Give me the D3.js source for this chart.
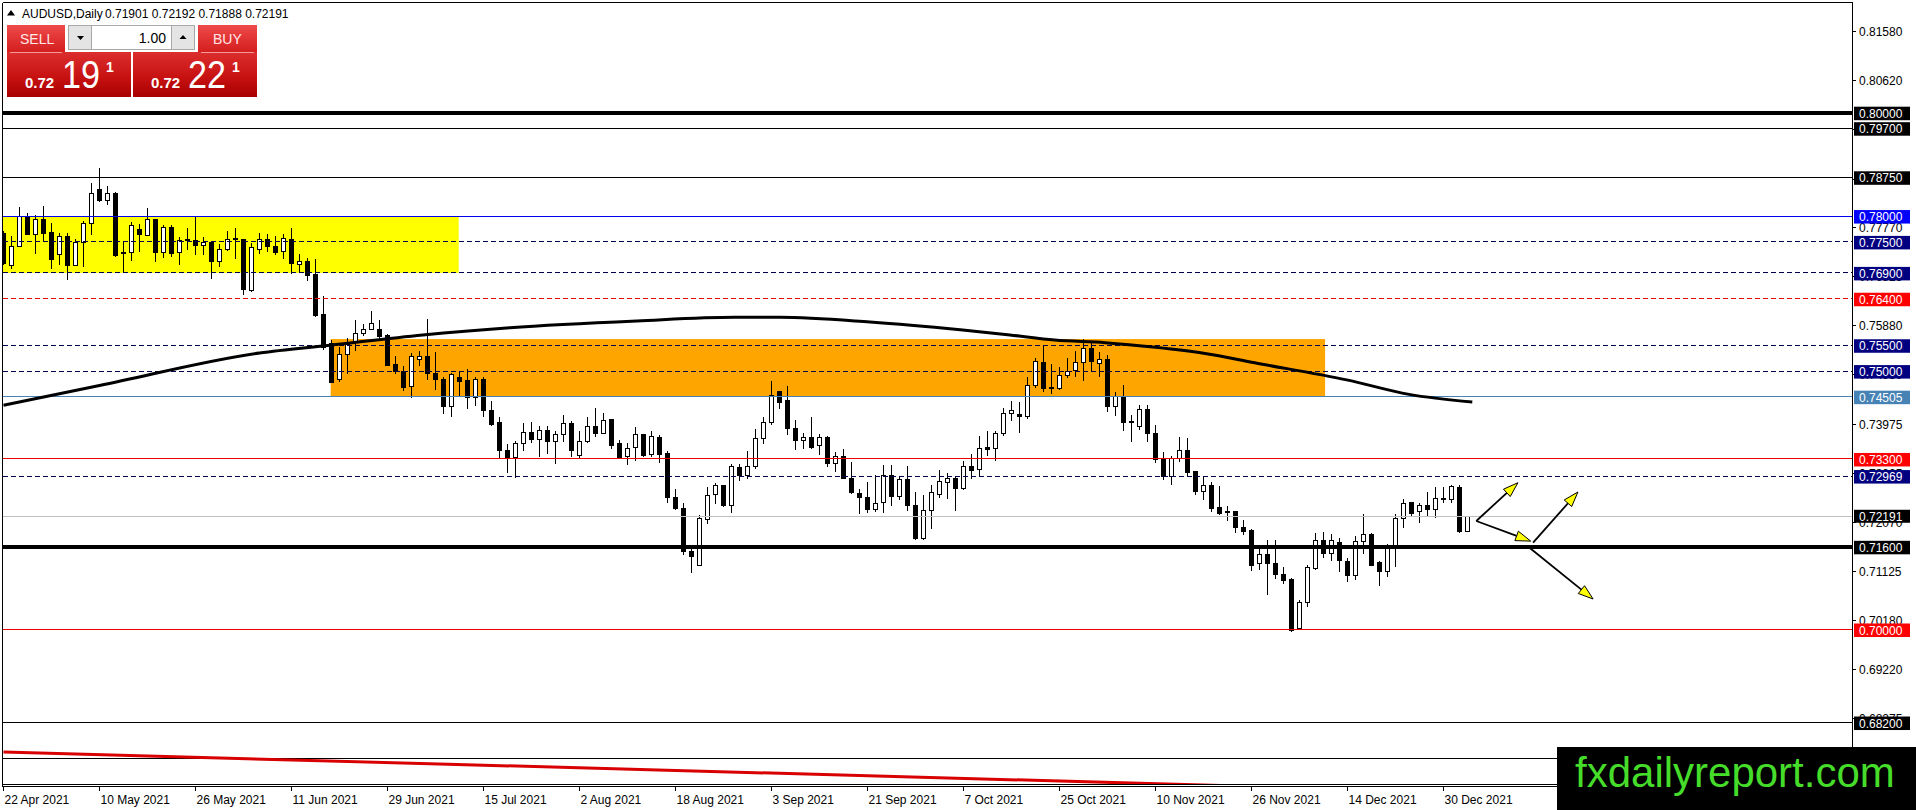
<!DOCTYPE html>
<html>
<head>
<meta charset="utf-8">
<title>AUDUSD Daily</title>
<script src="https://cdn.jsdelivr.net/npm/d3@7"></script>
<style>
  html, body { margin: 0; padding: 0; background: #fff; overflow: hidden; }
  svg { display: block; }
  text { font-family: "Liberation Sans", Arial, sans-serif; }
</style>
</head>
<body>
<svg id="chart" width="1916" height="810"></svg>
<script>
// ---- values ----
var symbol = "AUDUSD,Daily";

var opens = [
  0.7767,0.7705,0.7742,0.7800,0.7765,0.7793,0.7768,0.7725,0.7761,0.7705,
  0.7748,0.7785,0.7851,0.7830,0.7843,0.7727,0.7730,0.7774,0.7763,0.7793,
  0.7729,0.7778,0.7730,0.7754,0.7752,0.7743,0.7749,0.7713,0.7735,0.7756,
  0.7754,0.7656,0.7736,0.7755,0.7742,0.7731,0.7755,0.7707,0.7713,0.7687,
  0.7609,0.7554,0.7484,0.7533,0.7556,0.7572,0.7581,0.7580,0.7568,0.7512,
  0.7500,0.7470,0.7523,0.7529,0.7496,0.7484,0.7432,0.7488,0.7481,0.7448,
  0.7483,0.7424,0.7401,0.7347,0.7332,0.7360,0.7382,0.7367,0.7385,0.7363,
  0.7378,0.7398,0.7336,0.7363,0.7392,0.7380,0.7406,0.7360,0.7334,0.7353,
  0.7377,0.7338,0.7371,0.7340,0.7255,0.7235,0.7151,0.7124,0.7213,0.7261,
  0.7279,0.7240,0.7313,0.7298,0.7316,0.7369,0.7401,0.7461,0.7443,0.7388,
  0.7366,0.7371,0.7356,0.7371,0.7322,0.7335,0.7293,0.7264,0.7255,0.7233,
  0.7245,0.7298,0.7257,0.7290,0.7240,0.7177,0.7230,0.7261,0.7284,0.7293,
  0.7273,0.7315,0.7309,0.7353,0.7351,0.7379,0.7417,0.7416,0.7412,0.7473,
  0.7517,0.7468,0.7467,0.7492,0.7501,0.7516,0.7544,0.7515,0.7523,0.7431,
  0.7449,0.7403,0.7393,0.7425,0.7380,0.7328,0.7297,0.7331,0.7347,0.7305,
  0.7267,0.7278,0.7237,0.7229,0.7228,0.7198,0.7191,0.7128,0.7145,0.7128,
  0.7107,0.7096,0.7002,0.7052,0.7119,0.7173,0.7148,0.7168,0.7132,0.7104,
  0.7170,0.7184,0.7130,0.7112,0.7157,0.7215,0.7245,0.7229,0.7239,0.7232,
  0.7251,0.7251,0.7275,0.71901
];
var highs = [
  0.7772,0.7761,0.7817,0.7806,0.7803,0.7819,0.7787,0.7768,0.7768,0.7755,
  0.7790,0.7864,0.7893,0.7858,0.7846,0.7749,0.7788,0.7785,0.7816,0.7794,
  0.7783,0.7783,0.7759,0.7777,0.7800,0.7759,0.7750,0.7745,0.7772,0.7776,
  0.7756,0.7747,0.7768,0.7766,0.7761,0.7766,0.7776,0.7726,0.7718,0.7716,
  0.7645,0.7560,0.7546,0.7564,0.7599,0.7591,0.7616,0.7599,0.7572,0.7529,
  0.7510,0.7535,0.7539,0.7600,0.7536,0.7488,0.7496,0.7500,0.7504,0.7488,
  0.7488,0.7443,0.7412,0.7358,0.7365,0.7400,0.7402,0.7394,0.7393,0.7384,
  0.7416,0.7403,0.7385,0.7412,0.7429,0.7419,0.7406,0.7366,0.7360,0.7392,
  0.7379,0.7385,0.7377,0.7345,0.7272,0.7245,0.7158,0.7221,0.7276,0.7284,
  0.7280,0.7321,0.7321,0.7345,0.7387,0.7411,0.7480,0.7462,0.7472,0.7406,
  0.7380,0.7411,0.7379,0.7375,0.7343,0.7350,0.7324,0.7271,0.7286,0.7298,
  0.7319,0.7319,0.7297,0.7316,0.7266,0.7261,0.7280,0.7308,0.7302,0.7295,
  0.7326,0.7340,0.7375,0.7385,0.7385,0.7429,0.7442,0.7440,0.7488,0.7525,
  0.7549,0.7514,0.7507,0.7526,0.7539,0.7563,0.7556,0.7537,0.7531,0.7460,
  0.7473,0.7415,0.7434,0.7434,0.7396,0.7344,0.7336,0.7372,0.7370,0.7307,
  0.7297,0.7286,0.7277,0.7239,0.7230,0.7212,0.7194,0.7157,0.7173,0.7174,
  0.7121,0.7099,0.7057,0.7125,0.7187,0.7188,0.7184,0.7178,0.7138,0.7181,
  0.7224,0.7186,0.7133,0.7165,0.7223,0.7253,0.7247,0.7245,0.7266,0.7276,
  0.7276,0.7279,0.7279,0.72192
];
var lows = [
  0.7705,0.7697,0.7741,0.7763,0.7726,0.7752,0.7697,0.7706,0.7676,0.7703,
  0.7702,0.7763,0.7827,0.7821,0.7720,0.7690,0.7714,0.7730,0.7762,0.7712,
  0.7719,0.7721,0.7706,0.7734,0.7724,0.7724,0.7678,0.7702,0.7732,0.7716,
  0.7647,0.7653,0.7726,0.7731,0.7724,0.7716,0.7687,0.7692,0.7674,0.7605,
  0.7541,0.7477,0.7479,0.7494,0.7538,0.7567,0.7580,0.7562,0.7509,0.7495,
  0.7462,0.7448,0.7510,0.7483,0.7464,0.7417,0.7412,0.7450,0.7427,0.7433,
  0.7412,0.7393,0.7332,0.7303,0.7293,0.7345,0.7360,0.7334,0.7340,0.7320,
  0.7362,0.7334,0.7332,0.7360,0.7373,0.7379,0.7349,0.7330,0.7318,0.7326,
  0.7334,0.7334,0.7322,0.7245,0.7232,0.7145,0.7110,0.7123,0.7205,0.7242,
  0.7238,0.7226,0.7287,0.7291,0.7311,0.7358,0.7396,0.7427,0.7377,0.7347,
  0.7349,0.7349,0.7338,0.7315,0.7304,0.7291,0.7263,0.7224,0.7226,0.7227,
  0.7226,0.7239,0.7251,0.7229,0.7173,0.7174,0.7194,0.7255,0.7253,0.7229,
  0.7270,0.7291,0.7297,0.7335,0.7327,0.7374,0.7404,0.7381,0.7408,0.7467,
  0.7460,0.7456,0.7463,0.7486,0.7489,0.7481,0.7499,0.7488,0.7421,0.7413,
  0.7385,0.7362,0.7386,0.7362,0.7323,0.7289,0.7279,0.7325,0.7295,0.7261,
  0.7251,0.7228,0.7222,0.7209,0.7186,0.7183,0.7114,0.7116,0.7067,0.7097,
  0.7088,0.6996,0.7001,0.7043,0.7116,0.7138,0.7133,0.7112,0.7092,0.7096,
  0.7147,0.7123,0.7085,0.7102,0.7121,0.7197,0.7220,0.7207,0.7220,0.7215,
  0.7244,0.7244,0.7186,0.71888
];
var closes = [
  0.7708,0.7742,0.7800,0.7764,0.7793,0.7767,0.7716,0.7761,0.7705,0.7749,
  0.7785,0.7844,0.7830,0.7843,0.7723,0.7730,0.7781,0.7765,0.7793,0.7729,
  0.7778,0.7727,0.7752,0.7752,0.7743,0.7749,0.7713,0.7735,0.7754,0.7754,
  0.7658,0.7740,0.7755,0.7742,0.7730,0.7756,0.7708,0.7713,0.7685,0.7607,
  0.7546,0.7478,0.7533,0.7551,0.7573,0.7581,0.7593,0.7567,0.7510,0.7499,
  0.7469,0.7529,0.7529,0.7496,0.7484,0.7432,0.7493,0.7480,0.7448,0.7483,
  0.7424,0.7397,0.7347,0.7332,0.7360,0.7382,0.7367,0.7385,0.7363,0.7378,
  0.7398,0.7346,0.7363,0.7392,0.7380,0.7405,0.7356,0.7332,0.7351,0.7377,
  0.7336,0.7373,0.7338,0.7255,0.7235,0.7150,0.7141,0.7214,0.7260,0.7279,
  0.7239,0.7315,0.7298,0.7316,0.7369,0.7401,0.7453,0.7440,0.7388,0.7366,
  0.7371,0.7353,0.7371,0.7322,0.7335,0.7293,0.7266,0.7255,0.7232,0.7244,
  0.7298,0.7258,0.7290,0.7239,0.7177,0.7230,0.7266,0.7286,0.7293,0.7273,
  0.7315,0.7308,0.7351,0.7349,0.7380,0.7417,0.7423,0.7412,0.7473,0.7518,
  0.7467,0.7467,0.7492,0.7500,0.7516,0.7544,0.7518,0.7523,0.7431,0.7450,
  0.7400,0.7401,0.7425,0.7380,0.7328,0.7297,0.7331,0.7347,0.7304,0.7267,
  0.7278,0.7235,0.7224,0.7226,0.7198,0.7189,0.7124,0.7145,0.7128,0.7107,
  0.7094,0.6999,0.7052,0.7120,0.7173,0.7148,0.7173,0.7133,0.7104,0.7170,
  0.7184,0.7123,0.7112,0.7157,0.7215,0.7244,0.7224,0.7239,0.7232,0.7253,
  0.7253,0.7276,0.7189,0.72191
];

var dateLabels = ["22 Apr 2021","10 May 2021","26 May 2021","11 Jun 2021","29 Jun 2021","15 Jul 2021",
  "2 Aug 2021","18 Aug 2021","3 Sep 2021","21 Sep 2021","7 Oct 2021","25 Oct 2021",
  "10 Nov 2021","26 Nov 2021","14 Dec 2021","30 Dec 2021"];
var dateBars = [0,12,24,36,48,60,72,84,96,108,120,132,144,156,168,180];

var priceTicks = [0.81580,0.80620,0.79670,0.78715,0.77770,0.76825,0.75880,0.74930,
  0.73975,0.73025,0.72070,0.71125,0.70180,0.69220,0.68275];

var levelPrices = [0.80000,0.79700,0.78750,0.78000,0.77500,0.76900,0.76400,0.75500,
  0.75000,0.74505,0.73300,0.72969,0.71600,0.70000,0.68200,0.67500];
var levelKinds = ["thick","thin","thin","blue","navyDash","navyDash","redDash","navyDash",
  "navyDash","steel","red","navyDash","thick","red","thin","thin"];

// moving average, read at a few bars
var maBars   = [0,12,32,40.8,52.4,63.3,79.2,91.4,97,108.3,119.6,125.8,131.4,137.7,144,150.2,156.4,167.9,175.7,183.6];
var maValues = [0.7434,0.7472,0.7535,0.7550,0.7570,0.7584,0.7597,0.7604,0.7604,0.7595,
  0.7580,0.7570,0.7560,0.7555,0.7546,0.7534,0.7516,0.7483,0.7455,0.7440];

// red line at the bottom
var trendBars = [0,183];
var trendValues = [0.6763,0.6685];

// zones
var yellowBars = [-3,56.9], yellowPrices = [0.7800,0.7690];
var orangeBars = [40.9,165.2], orangePrices = [0.7562,0.74505];

// arrows drawn on the chart
var arrowFromBar   = [184.1,184.1,191.2,190.6];
var arrowFromPrice = [0.7210,0.7210,0.7168,0.7160];
var arrowToBar     = [189.3,190.9,196.8,198.7];
var arrowToPrice   = [0.7284,0.7171,0.7266,0.7059];

var bid = 0.72191, ask = 0.72221, lots = "1.00";

// ---- styles ----
var levelStyle = {
  thick:    {stroke: "#000000", width: 4, dash: null,  bg: "#000000"},
  thin:     {stroke: "#000000", width: 1, dash: null,  bg: "#000000"},
  blue:     {stroke: "#0000ee", width: 1, dash: null,  bg: "#0000ff"},
  navyDash: {stroke: "#00004a", width: 1, dash: "5,3", bg: "#000080"},
  redDash:  {stroke: "#ee0000", width: 1, dash: "5,3", bg: "#ff0000"},
  steel:    {stroke: "#4682b4", width: 1, dash: null,  bg: "#4682b4"},
  red:      {stroke: "#ee0000", width: 1, dash: null,  bg: "#ff0000"}
};

var svg = d3.select("#chart");
var plotL = 3, plotT = 3, plotR = 1852, plotB = 784;

var x = d3.scaleLinear().domain([0, 183]).range([3.5, 3.5 + 8 * 183]);
var y = d3.scaleLinear().domain([0.8, 0.7]).range([112.7, 629.5]);
function crisp(v) { return Math.floor(v) + 0.5; }

var defs = svg.append("defs");
defs.append("clipPath").attr("id", "plotClip")
  .append("rect").attr("x", plotL).attr("y", plotT)
  .attr("width", plotR - plotL).attr("height", plotB - plotT);

var gTop = defs.append("linearGradient").attr("id", "gTop").attr("x1", 0).attr("y1", 0).attr("x2", 0).attr("y2", 1);
gTop.append("stop").attr("offset", "0%").attr("stop-color", "#ef4a4a");
gTop.append("stop").attr("offset", "100%").attr("stop-color", "#d41e1e");
var gBig = defs.append("linearGradient").attr("id", "gBig").attr("x1", 0).attr("y1", 0).attr("x2", 0).attr("y2", 1);
gBig.append("stop").attr("offset", "0%").attr("stop-color", "#dc2e2e");
gBig.append("stop").attr("offset", "55%").attr("stop-color", "#c81212");
gBig.append("stop").attr("offset", "100%").attr("stop-color", "#a80000");

var plot = svg.append("g").attr("clip-path", "url(#plotClip)");

// zones
plot.append("rect")
  .attr("x", x(yellowBars[0])).attr("width", x(yellowBars[1]) - x(yellowBars[0]))
  .attr("y", y(yellowPrices[0])).attr("height", y(yellowPrices[1]) - y(yellowPrices[0]))
  .attr("fill", "#ffff00");
plot.append("rect")
  .attr("x", x(orangeBars[0])).attr("width", x(orangeBars[1]) - x(orangeBars[0]))
  .attr("y", y(orangePrices[0])).attr("height", y(orangePrices[1]) - y(orangePrices[0]))
  .attr("fill", "#ffa500");

// candles
var bars = d3.range(opens.length).map(function(i) {
  return {i: i, o: opens[i], h: highs[i], l: lows[i], c: closes[i]};
});
var candles = plot.append("g").attr("shape-rendering", "crispEdges");
candles.selectAll("line.wick").data(bars).enter().append("line")
  .attr("class", "wick")
  .attr("x1", function(d) { return x(d.i); })
  .attr("x2", function(d) { return x(d.i); })
  .attr("y1", function(d) { return y(d.h); })
  .attr("y2", function(d) { return y(d.l); })
  .attr("stroke", "#000");
candles.selectAll("rect.body").data(bars).enter().append("rect")
  .attr("class", "body")
  .attr("x", function(d) { return x(d.i) - 2; })
  .attr("width", 4)
  .attr("y", function(d) { return y(Math.max(d.o, d.c)); })
  .attr("height", function(d) { return Math.max(0.6, Math.abs(y(d.o) - y(d.c))); })
  .attr("fill", function(d) { return d.c >= d.o ? "#fff" : "#000"; })
  .attr("stroke", "#000");

// horizontal levels
var levels = levelPrices.map(function(p, i) { return {p: p, s: levelStyle[levelKinds[i]]}; });
var lv = plot.append("g").attr("shape-rendering", "crispEdges");
lv.selectAll("line").data(levels).enter().append("line")
  .attr("x1", plotL).attr("x2", plotR)
  .attr("y1", function(d) { return d.s.width === 1 ? crisp(y(d.p)) : y(d.p); })
  .attr("y2", function(d) { return d.s.width === 1 ? crisp(y(d.p)) : y(d.p); })
  .attr("stroke", function(d) { return d.s.stroke; })
  .attr("stroke-width", function(d) { return d.s.width; })
  .attr("stroke-dasharray", function(d) { return d.s.dash; });
// bid line
lv.append("line").attr("x1", plotL).attr("x2", plotR)
  .attr("y1", crisp(y(bid))).attr("y2", crisp(y(bid)))
  .attr("stroke", "#c0c0c0");

// moving average
var maLine = d3.line()
  .x(function(d) { return x(d[0]); })
  .y(function(d) { return y(d[1]); })
  .curve(d3.curveMonotoneX);
plot.append("path")
  .datum(maBars.map(function(b, i) { return [b, maValues[i]]; }))
  .attr("d", maLine).attr("fill", "none").attr("stroke", "#000").attr("stroke-width", 3);

// red line at the bottom
plot.append("path")
  .datum(trendBars.map(function(b, i) { return [b, trendValues[i]]; }))
  .attr("d", d3.line().x(function(d) { return x(d[0]); }).y(function(d) { return y(d[1]); }))
  .attr("fill", "none").attr("stroke", "#d80000").attr("stroke-width", 3);

// arrows
var arrows = arrowFromBar.map(function(b, i) {
  return {x1: x(b), y1: y(arrowFromPrice[i]), x2: x(arrowToBar[i]), y2: y(arrowToPrice[i])};
});
var ag = plot.append("g");
arrows.forEach(function(a) {
  var dx = a.x2 - a.x1, dy = a.y2 - a.y1, len = Math.sqrt(dx * dx + dy * dy);
  var ux = dx / len, uy = dy / len, nx = -uy, ny = ux;
  var hl = 15, hw = 5;
  var bx = a.x2 - ux * hl, by = a.y2 - uy * hl;
  ag.append("line").attr("x1", a.x1).attr("y1", a.y1).attr("x2", bx).attr("y2", by)
    .attr("stroke", "#000").attr("stroke-width", 1.8);
  ag.append("path")
    .attr("d", "M" + a.x2 + "," + a.y2 + "L" + (bx + nx * hw) + "," + (by + ny * hw) +
      "L" + (bx - nx * hw) + "," + (by - ny * hw) + "Z")
    .attr("fill", "#ffff00").attr("stroke", "#000").attr("stroke-width", 1);
});

// frame
var frame = svg.append("g").attr("stroke", "#000").attr("shape-rendering", "crispEdges");
frame.append("line").attr("x1", 2.5).attr("x2", plotR + 0.5).attr("y1", 2.5).attr("y2", 2.5);
frame.append("line").attr("x1", 2.5).attr("x2", 2.5).attr("y1", 2.5).attr("y2", 786.5);
frame.append("line").attr("x1", plotR + 0.5).attr("x2", plotR + 0.5).attr("y1", 2.5).attr("y2", 786.5);
frame.append("line").attr("x1", 2.5).attr("x2", plotR + 0.5).attr("y1", 784.5).attr("y2", 784.5);
frame.append("line").attr("x1", 2.5).attr("x2", plotR + 0.5).attr("y1", 786.5).attr("y2", 786.5);

// time axis
var tAxis = svg.append("g");
tAxis.selectAll("line").data(dateBars).enter().append("line")
  .attr("x1", function(d) { return x(d); }).attr("x2", function(d) { return x(d); })
  .attr("y1", 786.5).attr("y2", 791).attr("stroke", "#000").attr("shape-rendering", "crispEdges");
tAxis.selectAll("text").data(dateBars).enter().append("text")
  .attr("x", function(d) { return x(d) + 1; }).attr("y", 804)
  .attr("font-size", 12).attr("fill", "#000")
  .text(function(d, i) { return dateLabels[i]; });

// price axis ticks
var pAxis = svg.append("g");
pAxis.selectAll("line").data(priceTicks).enter().append("line")
  .attr("x1", plotR).attr("x2", plotR + 4)
  .attr("y1", function(d) { return crisp(y(d)); }).attr("y2", function(d) { return crisp(y(d)); })
  .attr("stroke", "#000").attr("shape-rendering", "crispEdges");
pAxis.selectAll("text").data(priceTicks).enter().append("text")
  .attr("x", 1859).attr("y", function(d) { return y(d) + 4.5; })
  .attr("font-size", 12).attr("fill", "#000")
  .text(function(d) { return d.toFixed(5); });

// level labels
var labs = svg.append("g");
levels.forEach(function(d) {
  var yc = y(d.p);
  labs.append("rect").attr("x", 1854).attr("y", yc - 6).attr("width", 56).attr("height", 13.5)
    .attr("fill", d.s.bg);
  labs.append("text").attr("x", 1859).attr("y", yc + 5).attr("font-size", 12).attr("fill", "#fff")
    .text(d.p.toFixed(5));
});
labs.append("rect").attr("x", 1854).attr("y", y(bid) - 6.5).attr("width", 56).attr("height", 13)
  .attr("fill", "#000");
labs.append("text").attr("x", 1859).attr("y", y(bid) + 4.5).attr("font-size", 12).attr("fill", "#fff")
  .text(bid.toFixed(5));

// title
var last = opens.length - 1;
svg.append("path").attr("d", "M7,15.5L15,15.5L11,10Z").attr("fill", "#000");
svg.append("text").attr("x", 22).attr("y", 17.5).attr("font-size", 12).attr("fill", "#000").text(symbol);
svg.append("text").attr("x", 105).attr("y", 17.5).attr("font-size", 12).attr("fill", "#000")
  .text([opens[last], highs[last], lows[last], closes[last]].map(function(v) { return v.toFixed(5); }).join(" "));

// one-click trading panel
var panel = svg.append("g");
function priceParts(v) { var s = v.toFixed(5); return [s.slice(0, 4), s.slice(4, 6), s.slice(6)]; }
var sp = priceParts(bid), bp = priceParts(ask);

panel.append("rect").attr("x", 7).attr("y", 25).attr("width", 58).attr("height", 27).attr("fill", "url(#gTop)");
panel.append("rect").attr("x", 198).attr("y", 25).attr("width", 59).attr("height", 27).attr("fill", "url(#gTop)");
panel.append("rect").attr("x", 7).attr("y", 52).attr("width", 124).attr("height", 45).attr("fill", "url(#gBig)");
panel.append("rect").attr("x", 133).attr("y", 52).attr("width", 124).attr("height", 45).attr("fill", "url(#gBig)");
panel.append("line").attr("x1", 10).attr("x2", 62).attr("y1", 52.5).attr("y2", 52.5).attr("stroke", "#f49a9a");
panel.append("line").attr("x1", 201).attr("x2", 254).attr("y1", 52.5).attr("y2", 52.5).attr("stroke", "#f49a9a");
panel.append("text").attr("x", 20).attr("y", 44).attr("font-size", 14).attr("fill", "#ffe8e8").text("SELL");
panel.append("text").attr("x", 213).attr("y", 44).attr("font-size", 14).attr("fill", "#ffe8e8").text("BUY");

// lot box
panel.append("rect").attr("x", 68.5).attr("y", 25.5).attr("width", 126).attr("height", 24)
  .attr("fill", "#fff").attr("stroke", "#a8a8a8");
panel.append("rect").attr("x", 68.5).attr("y", 25.5).attr("width", 23).attr("height", 24)
  .attr("fill", "#e4e4e4").attr("stroke", "#a8a8a8");
panel.append("rect").attr("x", 171.5).attr("y", 25.5).attr("width", 23).attr("height", 24)
  .attr("fill", "#e4e4e4").attr("stroke", "#a8a8a8");
panel.append("path").attr("d", "M77,36L84,36L80.5,40Z").attr("fill", "#000");
panel.append("path").attr("d", "M179.5,39L186.5,39L183,35Z").attr("fill", "#000");
panel.append("text").attr("x", 166).attr("y", 43).attr("font-size", 14).attr("text-anchor", "end")
  .attr("fill", "#000").text(lots);

[[sp, 25, 62, 106], [bp, 151, 188, 232]].forEach(function(r) {
  panel.append("text").attr("x", r[1]).attr("y", 88).attr("font-size", 15).attr("font-weight", "bold")
    .attr("fill", "#fff").text(r[0][0]);
  panel.append("text").attr("x", r[2]).attr("y", 88).attr("font-size", 38).attr("fill", "#fff")
    .attr("textLength", 38).attr("lengthAdjust", "spacingAndGlyphs").text(r[0][1]);
  panel.append("text").attr("x", r[3]).attr("y", 72).attr("font-size", 14).attr("font-weight", "bold")
    .attr("fill", "#fff").text(r[0][2]);
});

// watermark
svg.append("rect").attr("x", 1557).attr("y", 747).attr("width", 359).attr("height", 63).attr("fill", "#000");
svg.append("text").attr("x", 1575).attr("y", 787).attr("font-size", 42).attr("fill", "#46dc2a")
  .text("fxdailyreport.com");
</script>
</body>
</html>
